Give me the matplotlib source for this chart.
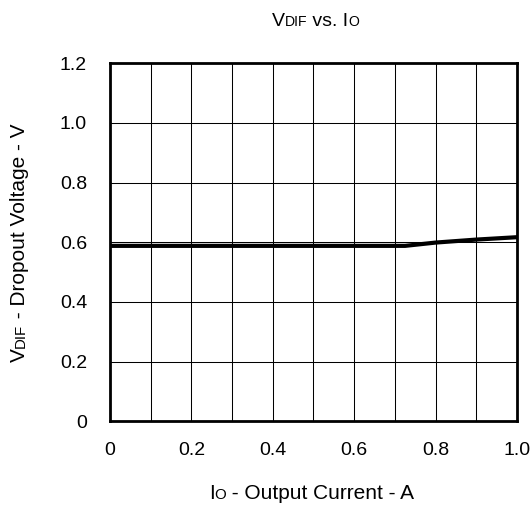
import matplotlib
matplotlib.use("Agg")
import matplotlib.pyplot as plt
import matplotlib.transforms as mtransforms

FONT = ["Liberation Sans", "DejaVu Sans"]
plt.rcParams['font.family'] = FONT

# Data
current_a = [0.0, 0.1, 0.2, 0.3, 0.4, 0.5, 0.6, 0.7, 0.725, 0.8, 0.9, 1.0]
dropout_v = [0.588, 0.588, 0.588, 0.588, 0.588, 0.588, 0.588, 0.588, 0.588, 0.599, 0.609, 0.617]

x_ticks = [0, 0.2, 0.4, 0.6, 0.8, 1.0]
x_tick_labels = ["0", "0.2", "0.4", "0.6", "0.8", "1.0"]
y_ticks = [0, 0.2, 0.4, 0.6, 0.8, 1.0, 1.2]
y_tick_labels = ["0", "0.2", "0.4", "0.6", "0.8", "1.0", "1.2"]
x_grid = [i / 10 for i in range(11)]

title_pieces = [("V", 1), ("DIF", 0.72), (" vs. I", 1), ("O", 0.72)]
xlabel_pieces = [("I", 1), ("O", 0.72), (" - Output Current - A", 1)]
ylabel_pieces = [("V", 1), ("DIF", 0.72), (" - Dropout Voltage - V", 1)]

fig = plt.figure(figsize=(5.3, 5.05), dpi=100)
ax = fig.add_axes([0.2075, 0.1655, 0.768, 0.7095])

for xv in x_grid:
    ax.axvline(xv, color="black", lw=0.75, zorder=1)
for yv in y_ticks:
    ax.axhline(yv, color="black", lw=0.75, zorder=1)

ax.plot(current_a, dropout_v, color="black", lw=3.0, solid_capstyle="butt", zorder=3)

ax.set_xlim(0, 1.0)
ax.set_ylim(0, 1.2)
ax.set_xticks(x_ticks)
ax.set_xticklabels(x_tick_labels)
ax.set_yticks(y_ticks)
ax.set_yticklabels(y_tick_labels)
ax.tick_params(axis="both", length=0, labelsize=14, colors="black")
ax.tick_params(axis="x", pad=14.5)
ax.tick_params(axis="y", pad=16.5)
for s in ax.spines.values():
    s.set_linewidth(2)
    s.set_color("black")
    s.set_zorder(4)

renderer = fig.canvas.get_renderer()


def text_width(s, size):
    t1 = fig.text(0, 0, "|" + s + "|", fontsize=size)
    t2 = fig.text(0, 0, "||", fontsize=size)
    w = t1.get_window_extent(renderer).width - t2.get_window_extent(renderer).width
    t1.remove()
    t2.remove()
    return w


def rich_text(pieces, base, x, y, rotation=0):
    widths = [text_width(s, base * f) for s, f in pieces]
    off = -sum(widths) / 2
    for (s, f), w in zip(pieces, widths):
        if rotation == 0:
            dx, dy = off, 0
        else:
            dx, dy = 0, off
        tr = mtransforms.offset_copy(fig.transFigure, fig=fig, x=dx, y=dy, units="dots")
        fig.text(x, y, s, fontsize=base * f, transform=tr, rotation=rotation,
                 ha="left", va="baseline", rotation_mode="anchor")
        off += w


cx = 0.2075 + 0.768 / 2
rich_text(title_pieces, 14, cx + 2 / 530, 1 - 26 / 505)
rich_text(xlabel_pieces, 15, cx - 2 / 530, 1 - 499 / 505)
rich_text(ylabel_pieces, 15, 25 / 530, 0.1655 + 0.7095 / 2, rotation=90)

fig.savefig("out.png", dpi=100)
